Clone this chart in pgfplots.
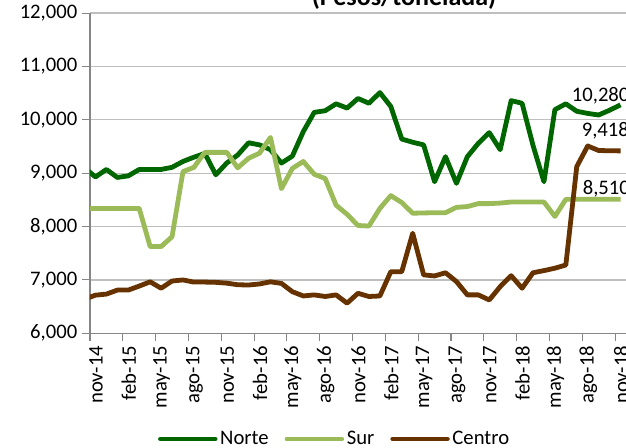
\documentclass[border=0pt]{standalone}
\usepackage{fontspec}
\setmainfont{Carlito}
\usepackage{pgfplots}
\usepackage{pgfplotstable}
\pgfplotsset{compat=1.18}

\definecolor{norte}{RGB}{0,102,0}
\definecolor{sur}{RGB}{155,187,89}
\definecolor{centro}{RGB}{102,51,0}
\definecolor{gridgray}{RGB}{191,191,191}
\definecolor{axisgray}{RGB}{134,134,134}

\newcommand\fs{\fontsize{15.5}{18}\selectfont}

% monthly prices, x = month index + 0.5 (oct-14 .. nov-18)
\pgfplotstableread{
x     norte  sur   centro
-0.5  9100   8340  6640
0.5   8930   8340  6715
1.5   9070   8340  6735
2.5   8920   8340  6810
3.5   8950   8340  6810
4.5   9070   8340  6885
5.5   9070   7625  6965
6.5   9070   7625  6845
7.5   9110   7810  6980
8.5   9220   9030  7000
9.5   9300   9110  6960
10.5  9370   9390  6960
11.5  8970   9390  6955
12.5  9190   9390  6940
13.5  9340   9100  6910
14.5  9570   9280  6905
15.5  9530   9375  6925
16.5  9440   9670  6965
17.5  9190   8710  6935
18.5  9320   9090  6780
19.5  9780   9220  6700
20.5  10140  8980  6720
21.5  10170  8900  6690
22.5  10300  8400  6720
23.5  10220  8230  6565
24.5  10400  8020  6750
25.5  10310  8010  6690
26.5  10510  8340  6700
27.5  10250  8580  7155
28.5  9640   8450  7155
29.5  9580   8250  7875
30.5  9530   8255  7095
31.5  8840   8260  7075
32.5  9310   8260  7135
33.5  8810   8360  6970
34.5  9310   8375  6720
35.5  9560   8430  6720
36.5  9760   8430  6625
37.5  9440   8440  6875
38.5  10360  8460  7080
39.5  10310  8460  6845
40.5  9520   8460  7135
41.5  8840   8460  7175
42.5  10190  8190  7220
43.5  10300  8510  7280
44.5  10160  8510  9125
45.5  10120  8510  9510
46.5  10090  8510  9425
47.5  10180  8510  9420
48.5  10280  8510  9418
}\prices

\begin{document}
\begin{tikzpicture}
\begin{axis}[
    at={(0,0)}, anchor=south west,
    scale only axis, width=402pt, height=240.2pt,
    xmin=0, xmax=49, ymin=6000, ymax=12000,
    scaled y ticks=false,
    clip mode=individual,
    axis x line*=bottom, axis y line*=left,
    axis line style={-, axisgray, line width=0.8pt},
    tick style={axisgray, line width=0.8pt},
    major tick length=6pt, tick align=outside,
    ymajorgrids, major grid style={gridgray, line width=1pt},
    ytick={6000,7000,...,12000},
    yticklabels={{6,000},{7,000},{8,000},{9,000},{10,000},{11,000},{12,000}},
    xtick={0,3,...,48},
    xticklabels={nov-14,feb-15,may-15,ago-15,nov-15,feb-16,may-16,ago-16,nov-16,feb-17,may-17,ago-17,nov-17,feb-18,may-18,ago-18,nov-18},
    xticklabel style={xshift=4.5pt, rotate=90, anchor=east},
    tick label style={font=\fs},
    legend columns=3,
    legend style={at={(0.457,-0.33)}, anchor=center, draw=none, fill=none,
        font=\fs, /tikz/every even column/.append style={column sep=10pt}},
    legend image code/.code={\draw[#1, line cap=round] (0pt,0pt) -- (41pt,0pt);},
]
\addplot[norte, line width=3.6pt, line join=round] table[x=x, y=norte]{\prices};
\addlegendentry{Norte}
\addplot[sur, line width=3.6pt, line join=round] table[x=x, y=sur]{\prices};
\addlegendentry{Sur}
\addplot[centro, line width=3.6pt, line join=round] table[x=x, y=centro]{\prices};
\addlegendentry{Centro}

\node[anchor=base west, inner sep=0, font=\fs] at (axis cs:44.03,10335) {10,280};
\node[anchor=base west, inner sep=0, font=\fs] at (axis cs:44.94,9680) {9,418};
\node[anchor=base west, inner sep=0, font=\fs] at (axis cs:45.03,8601) {8,510};
\end{axis}
\node[anchor=base, inner sep=0, font=\bfseries\fontsize{19.5}{22}\selectfont] at (235.5pt,246.2pt) {(Pesos/tonelada)};
\pgfresetboundingbox
\path[use as bounding box] (-67.5pt,-86pt) rectangle (402pt,250pt);
\end{tikzpicture}
\end{document}
